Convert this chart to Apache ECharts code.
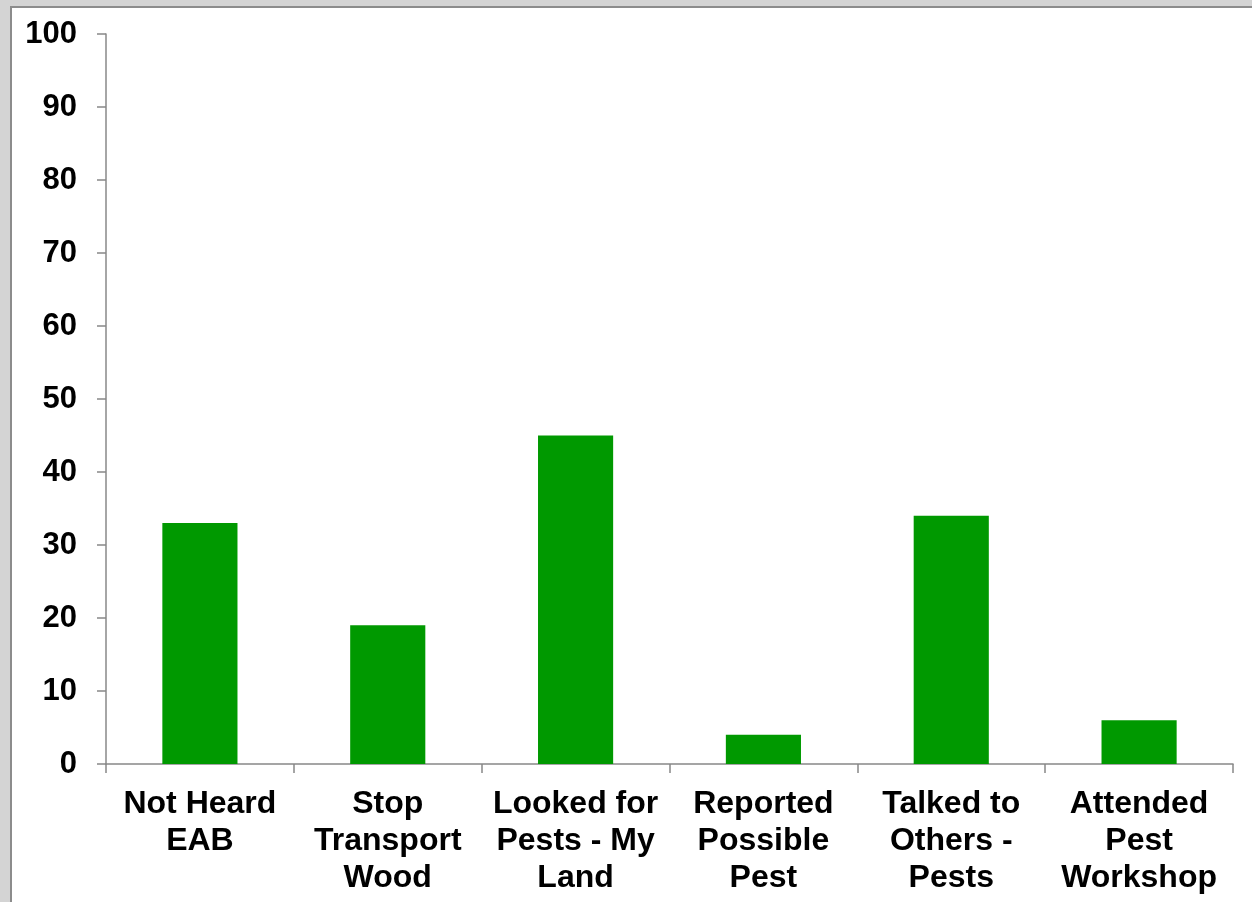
<!DOCTYPE html>
<html>
<head>
<meta charset="utf-8">
<script src="https://cdn.jsdelivr.net/npm/echarts@6/dist/echarts.min.js"></script>
<style>
  html, body { margin: 0; padding: 0; width: 1252px; height: 902px; background: #d4d4d4; overflow: hidden; }
  #frame { position: absolute; left: 10px; top: 6px; right: 0; bottom: 0; border-left: 2px solid #8c8c8c; border-top: 2px solid #8c8c8c; background: #fff; }
  #chart { position: absolute; left: 0; top: 0; width: 1252px; height: 902px; }
</style>
</head>
<body>
<div id="frame"></div>
<div id="chart"></div>
<script>
const categories = [
  'Not Heard\nEAB',
  'Stop\nTransport\nWood',
  'Looked for\nPests - My\nLand',
  'Reported\nPossible\nPest',
  'Talked to\nOthers -\nPests',
  'Attended\nPest\nWorkshop'
];
const values = [33, 19, 45, 4, 34, 6];
const yTicks = { min: 0, max: 100, interval: 10 };

const chart = echarts.init(document.getElementById('chart'));

const axisColor = '#888888';
const fontBase = {
  color: '#000',
  fontFamily: 'Liberation Sans, Arial, sans-serif',
  fontWeight: 'bold'
};

chart.setOption({
  animation: false,
  grid: { left: 106, right: 19, top: 34, bottom: 138 },
  xAxis: {
    type: 'category',
    data: categories,
    axisLine: { lineStyle: { color: axisColor, width: 1.5 } },
    axisTick: { show: true, length: 9, lineStyle: { color: axisColor, width: 1.5 } },
    axisLabel: Object.assign({ margin: 22, lineHeight: 37, fontSize: 32, interval: 0 }, fontBase),
    splitLine: { show: false }
  },
  yAxis: {
    type: 'value',
    min: yTicks.min,
    max: yTicks.max,
    interval: yTicks.interval,
    axisLine: { show: true, lineStyle: { color: axisColor, width: 1.5 } },
    axisTick: { show: true, length: 9, lineStyle: { color: axisColor, width: 1.5 } },
    axisLabel: Object.assign({ margin: 29, fontSize: 31, lineHeight: 31, padding: [8, 0, 0, 0] }, fontBase),
    splitLine: { show: false }
  },
  series: [
    {
      type: 'bar',
      data: values,
      barCategoryGap: '60%',
      itemStyle: { color: '#009900' }
    }
  ]
});
</script>
</body>
</html>
